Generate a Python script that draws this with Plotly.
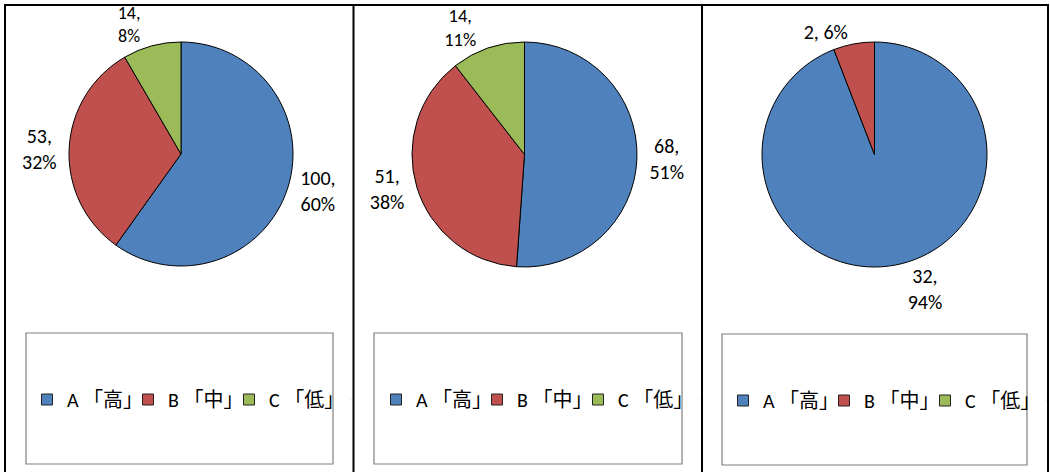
import plotly.graph_objects as go

# ---- data ----
categories = ["A 「高」", "B 「中」", "C 「低」"]
values_1 = [100, 53, 14]
values_2 = [68, 51, 14]
values_3 = [32, 2, 0]
labels_tpl_1 = ["%{value},<br>%{percent:.0%}"] * 3
labels_tpl_2 = ["%{value},<br>%{percent:.0%}"] * 3
labels_tpl_3 = ["%{value},<br>%{percent:.0%}", "%{value}, %{percent:.0%}", ""]

colors = ["#4F81BD", "#C0504D", "#9BBB59"]

W, H = 1050, 472
FONT = "Carlito, Calibri, 'Noto Sans CJK JP', sans-serif"


def px(x):
    return x / W


def py(y):
    return 1 - y / H


# pie boxes in pixels (left, top, right, bottom)
pie_boxes = [(69, 42, 293, 266), (412, 42, 637, 267), (762, 42, 987, 267)]
label_sizes = [[20, 20, 18], [20, 20, 18.5], [20, 20, 20]]
legend_boxes = [(26, 333, 333, 464), (374, 333, 682, 464), (722, 334, 1027, 465)]
legend_left = [27, 376, 723]
legend_names = ["legend", "legend2", "legend3"]

fig = go.Figure()
for vals, tpl, box, sizes, lg in zip([values_1, values_2, values_3],
                                     [labels_tpl_1, labels_tpl_2, labels_tpl_3],
                                     pie_boxes, label_sizes, legend_names):
    l, t, r, b = box
    fig.add_trace(go.Pie(
        labels=categories, values=vals, sort=False, direction="clockwise",
        rotation=0,
        marker=dict(colors=colors, line=dict(color="black", width=1)),
        texttemplate=tpl, textposition="outside",
        outsidetextfont=dict(size=sizes, color="black", family=FONT),
        domain=dict(x=[px(l), px(r)], y=[py(b), py(t)]),
        showlegend=False, hoverinfo="label+value+percent",
    ))
    # legend entries for this panel
    for cat, col in zip(categories, colors):
        fig.add_trace(go.Scatter(
            x=[None], y=[None], mode="markers", name=cat,
            marker=dict(symbol="square", size=11, color=col,
                        line=dict(color="#222222", width=1)),
            legend=lg, showlegend=True, hoverinfo="skip",
        ))
    # invisible spacer entry so the last legend text is not clipped
    fig.add_trace(go.Scatter(
        x=[None], y=[None], mode="markers", name=" ",
        marker=dict(symbol="square", size=1, opacity=0),
        legend=lg, showlegend=True, hoverinfo="skip",
    ))

shapes = []
# panel border lines
shapes.append(dict(type="line", xref="paper", yref="paper",
                   x0=px(4), x1=px(1049), y0=py(5), y1=py(5),
                   line=dict(color="black", width=2)))
for xv in [5, 353.5, 702, 1048]:
    shapes.append(dict(type="line", xref="paper", yref="paper",
                       x0=px(xv), x1=px(xv), y0=py(5), y1=py(472),
                       line=dict(color="black", width=2)))
layout_legends = {}
for box, ll, lg in zip(legend_boxes, legend_left, legend_names):
    l, t, r, b = box
    shapes.append(dict(type="rect", xref="paper", yref="paper",
                       x0=px(l), x1=px(r), y0=py(b), y1=py(t),
                       line=dict(color="#7F7F7F", width=1.2),
                       fillcolor="rgba(0,0,0,0)"))
    layout_legends[lg] = dict(
        orientation="h", x=px(ll), y=py((t + b) / 2 + 1),
        xanchor="left", yanchor="middle",
        font=dict(size=20, color="black", family=FONT),
        bgcolor="rgba(0,0,0,0)", borderwidth=0,
        entrywidth=56, entrywidthmode="pixels",
        itemclick=False, itemdoubleclick=False,
    )

fig.update_layout(
    width=W, height=H,
    margin=dict(l=0, r=0, t=0, b=0, autoexpand=False),
    paper_bgcolor="white", plot_bgcolor="white",
    showlegend=True,
    shapes=shapes,
    xaxis=dict(visible=False), yaxis=dict(visible=False),
    font=dict(family=FONT, color="black"),
    **layout_legends,
)

post = (
    "document.body.style.margin='0';document.body.style.padding='0';"
    "var gd=document.getElementById('{plot_id}');"
    "gd.style.position='absolute';gd.style.top='0px';gd.style.left='0px';"
)
fig.write_html("out.html", config={"displayModeBar": False}, post_script=post)
